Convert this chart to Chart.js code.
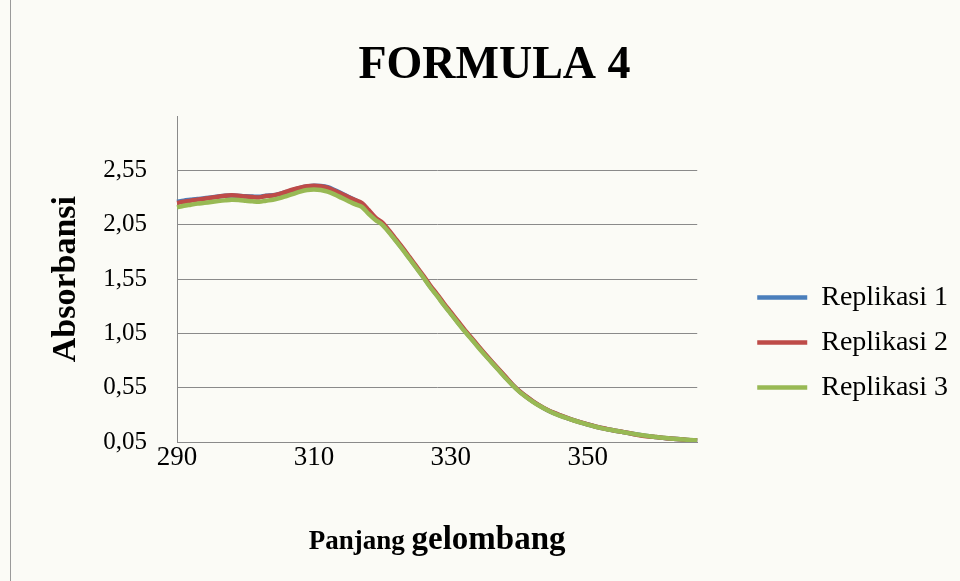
<!DOCTYPE html>
<html>
<head>
    <title>FORMULA 4</title>
    <script src="https://cdn.jsdelivr.net/npm/chart.js"></script>
    <style>
        body {
            margin: 0;
            background-color: #fbfbf6;
        }
        .bingkai {
            position: relative;
            width: 960px;
            height: 581px;
        }
        .bingkai:before {
            content: '';
            position: absolute;
            left: 10px;
            top: 0;
            bottom: 0;
            border-left: 1px solid #9a9a9a;
        }
    </style>
</head>
<body>
    <div class="bingkai">
        <canvas id="grafikFormula" width="960" height="581"></canvas>
    </div>

    <script>
        // panjang gelombang (nm)
        const panjangGelombang = [
            290, 291, 292, 293, 294, 295, 296, 297, 298, 299,
            300, 301, 302, 303, 304, 305, 306, 307, 308, 309,
            310, 311, 312, 313, 314, 315, 316, 317, 318, 319,
            320, 321, 322, 323, 324, 325, 326, 327, 328, 329,
            330, 331, 332, 333, 334, 335, 336, 337, 338, 339,
            340, 341, 342, 343, 344, 345, 346, 347, 348, 349,
            350, 351, 352, 353, 354, 355, 356, 357, 358, 359,
            360, 361, 362, 363, 364, 365, 366
        ];

        const replikasi1 = [
            2.262, 2.272, 2.280, 2.288, 2.294, 2.302, 2.310, 2.318, 2.320, 2.316,
            2.312, 2.310, 2.308, 2.318, 2.322, 2.335, 2.352, 2.372, 2.390, 2.403,
            2.410, 2.407, 2.396, 2.370, 2.340, 2.308, 2.278, 2.245, 2.178, 2.108,
            2.060, 1.985, 1.905, 1.825, 1.740, 1.655, 1.570, 1.480, 1.400, 1.315,
            1.235, 1.155, 1.078, 1.003, 0.928, 0.855, 0.785, 0.715, 0.645, 0.577,
            0.517, 0.468, 0.423, 0.383, 0.348, 0.318, 0.293, 0.270, 0.249, 0.229,
            0.211, 0.194, 0.179, 0.165, 0.154, 0.143, 0.132, 0.121, 0.111, 0.102,
            0.095, 0.088, 0.082, 0.077, 0.072, 0.067, 0.063
        ];

        const replikasi2 = [
            2.250, 2.262, 2.272, 2.282, 2.290, 2.300, 2.308, 2.318, 2.322, 2.318,
            2.310, 2.305, 2.302, 2.315, 2.320, 2.335, 2.355, 2.375, 2.392, 2.405,
            2.410, 2.405, 2.392, 2.365, 2.335, 2.305, 2.278, 2.250, 2.185, 2.115,
            2.070, 1.995, 1.915, 1.835, 1.750, 1.665, 1.580, 1.490, 1.410, 1.325,
            1.245, 1.165, 1.085, 1.010, 0.935, 0.860, 0.790, 0.720, 0.650, 0.580,
            0.520, 0.470, 0.425, 0.385, 0.350, 0.320, 0.295, 0.272, 0.250, 0.230,
            0.212, 0.195, 0.180, 0.166, 0.155, 0.144, 0.133, 0.118, 0.108, 0.100,
            0.095, 0.088, 0.082, 0.077, 0.072, 0.067, 0.063
        ];

        const replikasi3 = [
            2.210, 2.225, 2.235, 2.245, 2.252, 2.260, 2.268, 2.275, 2.280, 2.278,
            2.272, 2.266, 2.262, 2.272, 2.280, 2.295, 2.315, 2.335, 2.355, 2.370,
            2.375, 2.370, 2.355, 2.330, 2.300, 2.270, 2.240, 2.215, 2.150, 2.095,
            2.050, 1.978, 1.900, 1.820, 1.735, 1.650, 1.565, 1.475, 1.395, 1.310,
            1.230, 1.150, 1.072, 0.998, 0.923, 0.850, 0.780, 0.710, 0.640, 0.573,
            0.514, 0.465, 0.420, 0.381, 0.346, 0.316, 0.291, 0.269, 0.248, 0.228,
            0.210, 0.193, 0.178, 0.165, 0.154, 0.143, 0.132, 0.122, 0.112, 0.103,
            0.096, 0.089, 0.083, 0.078, 0.073, 0.068, 0.064
        ];

        const labelSumbuX = ['290', '310', '330', '350'];
        const tickSumbuY = [0.05, 0.55, 1.05, 1.55, 2.05, 2.55, 3.05];

        const hurufSerif = '"Liberation Serif", "Times New Roman", serif';

        // judul sumbu x: "Panjang" lebih kecil dari "gelombang"
        const judulSumbuX = {
            id: 'judulSumbuX',
            afterDraw(chart) {
                const ctx = chart.ctx;
                const area = chart.chartArea;
                const f1 = 'bold 27px ' + hurufSerif;
                const f2 = 'bold 33px ' + hurufSerif;
                ctx.save();
                ctx.font = f1;
                const w1 = ctx.measureText('Panjang ').width;
                ctx.font = f2;
                const w2 = ctx.measureText('gelombang').width;
                const x = (area.left + area.right) / 2 - (w1 + w2) / 2;
                const y = area.bottom + 107;
                ctx.fillStyle = '#000';
                ctx.textAlign = 'left';
                ctx.textBaseline = 'alphabetic';
                ctx.font = f1;
                ctx.fillText('Panjang ', x, y);
                ctx.font = f2;
                ctx.fillText('gelombang', x + w1, y);
                ctx.restore();
            }
        };

        // geser legenda dan judul ke posisi seperti di gambar asli
        const geserKotak = {
            id: 'geserKotak',
            afterLayout(chart) {
                const lg = chart.legend;
                lg.left += 43;
                lg.right += 43;
                lg.top += 59;
                lg.bottom += 59;
                const jd = chart.titleBlock;
                jd.left += 16;
                jd.right += 16;
            }
        };

        const ctx = document.getElementById('grafikFormula').getContext('2d');
        const chart = new Chart(ctx, {
            type: 'line',
            data: {
                labels: panjangGelombang,
                datasets: [
                    {
                        label: 'Replikasi 1',
                        data: replikasi1,
                        borderColor: '#4a7ebb',
                        backgroundColor: '#4a7ebb',
                        borderWidth: 4.5,
                        pointRadius: 0,
                        tension: 0.3,
                        order: 3
                    },
                    {
                        label: 'Replikasi 2',
                        data: replikasi2,
                        borderColor: '#be4b48',
                        backgroundColor: '#be4b48',
                        borderWidth: 4.5,
                        pointRadius: 0,
                        tension: 0.3,
                        order: 2
                    },
                    {
                        label: 'Replikasi 3',
                        data: replikasi3,
                        borderColor: '#98b954',
                        backgroundColor: '#98b954',
                        borderWidth: 4.5,
                        pointRadius: 0,
                        tension: 0.3,
                        order: 1
                    }
                ]
            },
            options: {
                responsive: false,
                animation: false,
                layout: {
                    padding: { left: 42, right: 45, top: 0, bottom: 14 }
                },
                scales: {
                    x: {
                        type: 'category',
                        afterFit(scale) { scale.height = 125; },
                        grid: { display: false, drawTicks: false },
                        border: { display: true, color: '#8a8a8a', width: 1 },
                        ticks: {
                            autoSkip: false,
                            maxRotation: 0,
                            padding: 0,
                            color: '#000',
                            font: { family: hurufSerif, size: 27 },
                            callback(value) {
                                const lbl = String(this.getLabelForValue(value));
                                return labelSumbuX.includes(lbl) ? lbl : null;
                            }
                        }
                    },
                    y: {
                        min: 0.05,
                        max: 3.05,
                        afterFit(scale) { scale.width = 135; },
                        afterBuildTicks(scale) {
                            scale.ticks = tickSumbuY.map(v => ({ value: v }));
                        },
                        grid: { color: '#8a8a8a', lineWidth: 1, drawTicks: false },
                        border: { display: true, color: '#8a8a8a', width: 1 },
                        title: {
                            display: true,
                            text: 'Absorbansi',
                            color: '#000',
                            font: { family: hurufSerif, size: 34, weight: 'bold' }
                        },
                        ticks: {
                            padding: 30,
                            color: '#000',
                            font: { family: hurufSerif, size: 25 },
                            callback(value) {
                                if (value > 3) return null;
                                return value.toFixed(2).replace('.', ',');
                            }
                        }
                    }
                },
                plugins: {
                    title: {
                        display: true,
                        text: 'FORMULA 4',
                        color: '#000',
                        font: { family: hurufSerif, size: 46, weight: 'bold' },
                        padding: { top: 39, bottom: 22 }
                    },
                    legend: {
                        position: 'right',
                        labels: {
                            usePointStyle: true,
                            pointStyle: 'line',
                            pointStyleWidth: 50,
                            padding: 17,
                            color: '#000',
                            font: { family: hurufSerif, size: 28 },
                            sort: (a, b) => a.datasetIndex - b.datasetIndex
                        }
                    },
                    tooltip: { enabled: false }
                }
            },
            plugins: [judulSumbuX, geserKotak]
        });
    </script>
</body>
</html>
